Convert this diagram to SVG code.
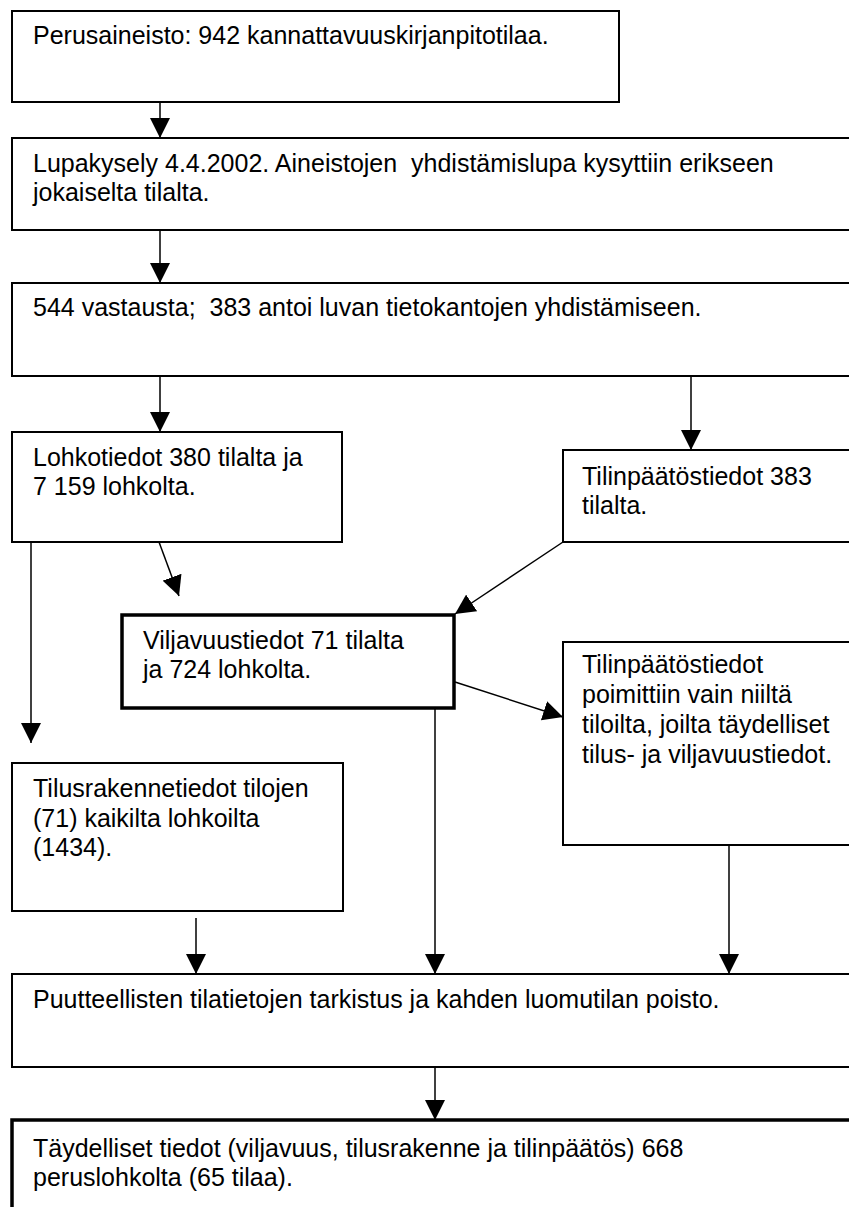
<svg xmlns="http://www.w3.org/2000/svg" width="849" height="1207" viewBox="0 0 849 1207">
<style>
.box{fill:#fff;stroke:#000;stroke-width:2}
.thick{fill:#fff;stroke:#000;stroke-width:3.5}
.t{font-family:"Liberation Sans",Arial,sans-serif;font-size:25px;fill:#000;white-space:pre}
.c{stroke:#000;stroke-width:1.5;fill:none}
</style>
<defs>
<marker id="ah" markerUnits="userSpaceOnUse" viewBox="0 0 20 20" markerWidth="20" markerHeight="20" refX="20" refY="10" orient="auto">
<path d="M0,0 L20,10 L0,20 Z" fill="#000"/>
</marker>
</defs>
<rect width="849" height="1207" fill="#fff"/>
<g id="connectors">
<line class="c" x1="160" y1="102" x2="160" y2="138" marker-end="url(#ah)"/>
<line class="c" x1="160" y1="230" x2="160" y2="283" marker-end="url(#ah)"/>
<line class="c" x1="160" y1="376" x2="160" y2="432" marker-end="url(#ah)"/>
<line class="c" x1="691" y1="376" x2="691" y2="450" marker-end="url(#ah)"/>
<line class="c" x1="31" y1="542" x2="31" y2="743" marker-end="url(#ah)"/>
<line class="c" x1="159" y1="542" x2="179" y2="596" marker-end="url(#ah)"/>
<line class="c" x1="563" y1="542" x2="455" y2="614" marker-end="url(#ah)"/>
<line class="c" x1="455" y1="682" x2="563" y2="717" marker-end="url(#ah)"/>
<line class="c" x1="435" y1="708" x2="435" y2="974" marker-end="url(#ah)"/>
<line class="c" x1="729" y1="845" x2="729" y2="974" marker-end="url(#ah)"/>
<line class="c" x1="196" y1="918" x2="196" y2="974" marker-end="url(#ah)"/>
<line class="c" x1="435" y1="1067" x2="435" y2="1120" marker-end="url(#ah)"/>
</g>
<g id="n1">
<rect class="box" x="12" y="11" width="607" height="91"/>
<text class="t" x="33" y="44">Perusaineisto: 942 kannattavuuskirjanpitotilaa.</text>
</g>
<g id="n2">
<rect class="box" x="12" y="138" width="850" height="92"/>
<text class="t" x="33" y="172">Lupakysely 4.4.2002. Aineistojen  yhdistämislupa kysyttiin erikseen</text>
<text class="t" x="33" y="201">jokaiselta tilalta.</text>
</g>
<g id="n3">
<rect class="box" x="12" y="283" width="850" height="93"/>
<text class="t" x="33" y="316">544 vastausta;  383 antoi luvan tietokantojen yhdistämiseen.</text>
</g>
<g id="n4">
<rect class="box" x="12" y="432" width="330" height="110"/>
<text class="t" x="33" y="466">Lohkotiedot 380 tilalta ja</text>
<text class="t" x="33" y="495">7 159 lohkolta.</text>
</g>
<g id="n5">
<rect class="box" x="563" y="450" width="300" height="92"/>
<text class="t" x="582" y="485">Tilinpäätöstiedot 383</text>
<text class="t" x="582" y="514">tilalta.</text>
</g>
<g id="n6">
<rect class="thick" x="122" y="615" width="332" height="93"/>
<text class="t" x="143" y="649">Viljavuustiedot 71 tilalta</text>
<text class="t" x="143" y="678">ja 724 lohkolta.</text>
</g>
<g id="n7">
<rect class="box" x="563" y="642" width="300" height="203"/>
<text class="t" x="582" y="673">Tilinpäätöstiedot</text>
<text class="t" x="582" y="703">poimittiin vain niiltä</text>
<text class="t" x="582" y="733">tiloilta, joilta täydelliset</text>
<text class="t" x="582" y="763">tilus- ja viljavuustiedot.</text>
</g>
<g id="n8">
<rect class="box" x="12" y="763" width="331" height="148"/>
<text class="t" x="33" y="797">Tilusrakennetiedot tilojen</text>
<text class="t" x="33" y="827">(71) kaikilta lohkoilta</text>
<text class="t" x="33" y="856">(1434).</text>
</g>
<g id="n9">
<rect class="box" x="12" y="974" width="850" height="93"/>
<text class="t" x="33" y="1008">Puutteellisten tilatietojen tarkistus ja kahden luomutilan poisto.</text>
</g>
<g id="n10">
<rect class="thick" x="12" y="1120" width="850" height="100"/>
<text class="t" x="33" y="1157">Täydelliset tiedot (viljavuus, tilusrakenne ja tilinpäätös) 668</text>
<text class="t" x="33" y="1186">peruslohkolta (65 tilaa).</text>
</g>
</svg>
